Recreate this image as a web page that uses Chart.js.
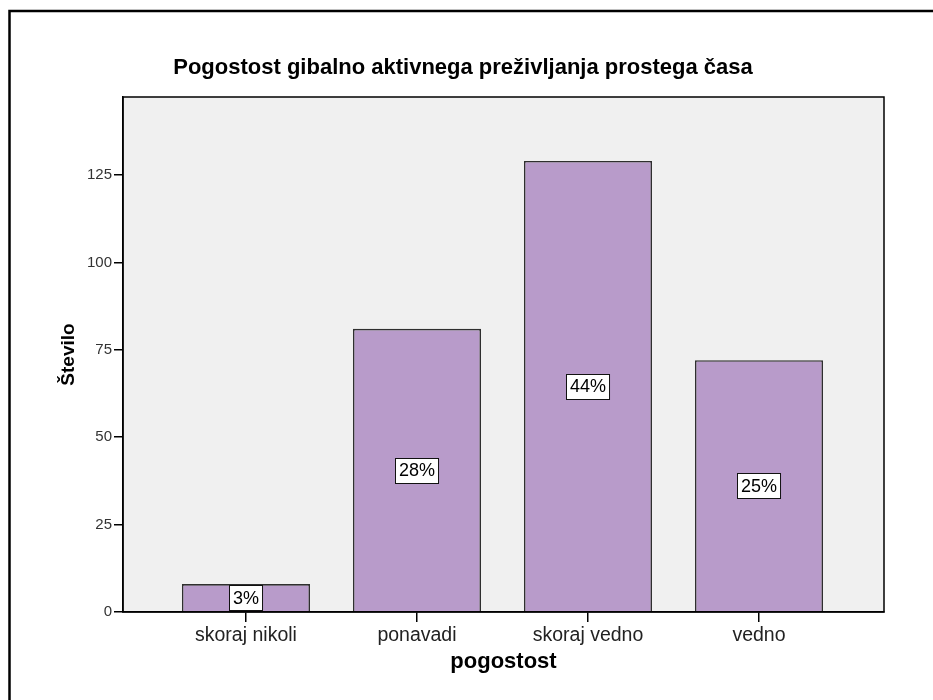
<!DOCTYPE html>
<html>
<head>
<meta charset="utf-8">
<script src="https://cdn.jsdelivr.net/npm/chart.js@4.4.1/dist/chart.umd.min.js"></script>
<style>
  html, body { margin: 0; padding: 0; background: #fff; }
  #wrap { width: 933px; height: 700px; }
</style>
</head>
<body>
<div id="wrap"><canvas id="c" width="933" height="700"></canvas></div>
<script>
// Chart text
const chartTitle = 'Pogostost gibalno aktivnega preživljanja prostega časa';
const xAxisTitle = 'pogostost';
const yAxisTitle = 'Število';

// Categories and counts
const categories = ['skoraj nikoli', 'ponavadi', 'skoraj vedno', 'vedno'];
const counts = [8, 81, 129, 72];

// Y axis tick values
const yTicks = [0, 25, 50, 75, 100, 125];

const FONT = 'Arial, "Liberation Sans", sans-serif';
const total = counts.reduce((s, v) => s + v, 0);

// Background, outer frame, title, plot box and percentage boxes
const decor = {
  id: 'decor',
  beforeDraw(chart) {
    const { ctx, chartArea: a, width, height } = chart;
    ctx.save();
    ctx.fillStyle = '#ffffff';
    ctx.fillRect(0, 0, width, height);
    ctx.fillStyle = '#f0f0f0';
    ctx.fillRect(a.left, a.top, a.right - a.left, a.bottom - a.top);

    ctx.strokeStyle = '#000';
    ctx.lineWidth = 2.5;
    ctx.beginPath();
    ctx.moveTo(9.5, height);
    ctx.lineTo(9.5, 11);
    ctx.lineTo(width, 11);
    ctx.stroke();

    ctx.fillStyle = '#000';
    ctx.font = 'bold 22px ' + FONT;
    ctx.textAlign = 'center';
    ctx.textBaseline = 'middle';
    ctx.fillText(chartTitle, 463, 68);
    ctx.restore();
  },
  afterDatasetsDraw(chart) {
    const { ctx, chartArea: a } = chart;
    ctx.save();
    ctx.strokeStyle = '#000';
    ctx.lineWidth = 1.5;
    ctx.strokeRect(a.left, a.top, a.right - a.left, a.bottom - a.top);

    const meta = chart.getDatasetMeta(0);
    ctx.font = '18px ' + FONT;
    ctx.textAlign = 'center';
    ctx.textBaseline = 'middle';
    meta.data.forEach((bar, i) => {
      const label = Math.round(counts[i] / total * 100) + '%';
      const w = ctx.measureText(label).width + 7;
      const h = 25;
      const cy = (bar.y + bar.base) / 2;
      const x0 = Math.round(bar.x - w / 2) + 0.5;
      const y0 = Math.round(cy - h / 2) + 0.5;
      ctx.fillStyle = '#ffffff';
      ctx.fillRect(x0, y0, w, h);
      ctx.strokeStyle = '#111';
      ctx.lineWidth = 1;
      ctx.strokeRect(x0, y0, w, h);
      ctx.fillStyle = '#000';
      ctx.fillText(label, bar.x, cy + 1);
    });
    ctx.restore();
  }
};

new Chart(document.getElementById('c'), {
  type: 'bar',
  data: {
    datasets: [{
      data: counts.map((v, i) => ({ x: i, y: v })),
      backgroundColor: '#b89bca',
      borderColor: '#2f2f2f',
      borderWidth: 1.6,
      barPercentage: 0.749,
      categoryPercentage: 1
    }]
  },
  options: {
    responsive: false,
    animation: false,
    devicePixelRatio: 1,
    layout: { padding: { top: 97, right: 49, bottom: 0, left: 0 } },
    plugins: {
      legend: { display: false },
      title: { display: false },
      tooltip: { enabled: false }
    },
    scales: {
      x: {
        type: 'linear',
        min: -0.719,
        max: 3.731,
        bounds: 'data',
        offset: false,
        afterBuildTicks: s => { s.ticks = categories.map((c, i) => ({ value: i })); },
        afterFit: s => { s.height = 88; },
        grid: { offset: false, drawOnChartArea: false, drawTicks: true, tickLength: 10, color: '#000', lineWidth: 1.5 },
        border: { display: true, color: '#000', width: 1.5 },
        ticks: {
          autoSkip: false,
          maxRotation: 0,
          padding: 2,
          color: '#222',
          font: { family: FONT, size: 19.5 },
          callback: v => categories[v]
        },
        title: {
          display: true,
          text: xAxisTitle,
          color: '#000',
          font: { family: FONT, size: 22, weight: 'bold' },
          padding: { top: 0, bottom: 25 }
        }
      },
      y: {
        min: 0,
        max: 147.3,
        afterBuildTicks: s => { s.ticks = yTicks.map(v => ({ value: v })); },
        afterFit: s => { s.width = 123; },
        grid: { drawOnChartArea: false, drawTicks: true, tickLength: 9, color: '#000', lineWidth: 1.5 },
        border: { display: true, color: '#000', width: 1.5 },
        ticks: {
          padding: 2,
          color: '#333',
          font: { family: FONT, size: 15 }
        },
        title: {
          display: true,
          text: yAxisTitle,
          color: '#000',
          font: { family: FONT, size: 19, weight: 'bold' },
          padding: { top: 57, bottom: 0 }
        }
      }
    }
  },
  plugins: [decor]
});
</script>
</body>
</html>
